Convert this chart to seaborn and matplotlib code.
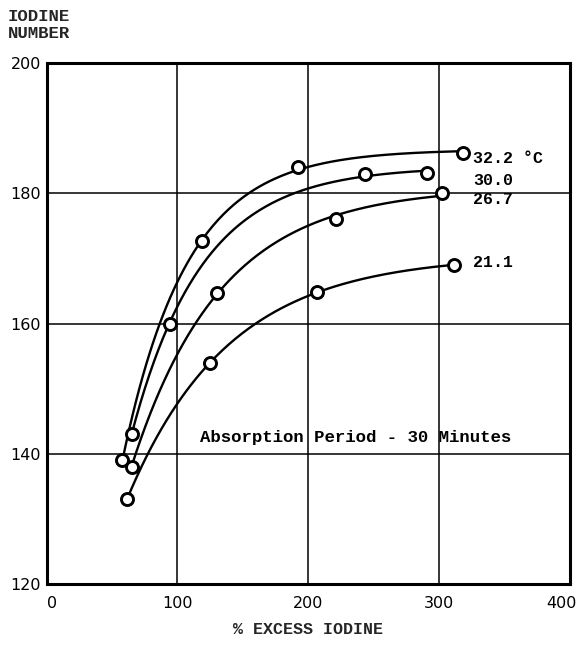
import numpy as np
import pandas as pd
import matplotlib
matplotlib.use("Agg")
import matplotlib.pyplot as plt
from matplotlib.transforms import ScaledTranslation
import seaborn as sns

# ---- data ----
temps = ["32.2", "30.0", "26.7", "21.1"]
x_322 = [58, 119, 192, 318]
y_322 = [139.0, 172.7, 184.0, 186.2]
x_300 = [65, 94, 243, 291]
y_300 = [143.0, 160.0, 183.0, 183.1]
x_267 = [65, 130, 221, 302]
y_267 = [138.0, 164.7, 176.0, 180.0]
x_211 = [61.5, 125, 207, 311]
y_211 = [133.0, 154.0, 164.8, 169.0]
curve_labels = ["32.2 \u00b0C", "30.0", "26.7", "21.1"]
label_y = [185.4, 182.0, 179.1, 169.3]
x_ticks = [0, 100, 200, 300, 400]
y_ticks = [120, 140, 160, 180, 200]

xs = [x_322, x_300, x_267, x_211]
ys = [y_322, y_300, y_267, y_211]

pts = pd.DataFrame({
    "temp": np.repeat(temps, 4),
    "x": np.concatenate(xs),
    "y": np.concatenate(ys),
})

# smooth saturating fit y = A - B*exp(-k x) per series (like the hand-drawn curves)
rows = []
for t, xv, yv in zip(temps, xs, ys):
    xv = np.asarray(xv, float); yv = np.asarray(yv, float)
    best = None
    for k in np.linspace(0.002, 0.12, 3000):
        M = np.column_stack([np.ones_like(xv), -np.exp(-k * xv)])
        coef, res, *_ = np.linalg.lstsq(M, yv, rcond=None)
        r = np.sum((M @ coef - yv) ** 2)
        if best is None or r < best[0]:
            best = (r, k, coef)
    _, k, (A, B) = best
    xg = np.linspace(xv.min(), xv.max(), 200)
    for xx in xg:
        rows.append((t, xx, A - B * np.exp(-k * xx)))
curves = pd.DataFrame(rows, columns=["temp", "x", "y"])

sns.set_theme(style="white")
plt.rcParams["font.family"] = ["DejaVu Sans"]

fig = plt.figure(figsize=(5.79, 6.64), dpi=100)
ax = fig.add_axes([46.5 / 579, 1 - 584 / 664, (570 - 46.5) / 579, (584 - 63) / 664])

pal = {t: "black" for t in temps}
sns.lineplot(data=curves, x="x", y="y", hue="temp", palette=pal, ax=ax,
             linewidth=1.7, legend=False, sort=True, estimator=None)
sns.scatterplot(data=pts, x="x", y="y", hue="temp", palette=pal, ax=ax,
                marker="o", s=75, linewidth=2.1, legend=False, zorder=5)
for c in ax.collections:
    c.set_facecolor("white")
    c.set_edgecolor("black")

ax.set_xlim(0, 400)
ax.set_ylim(120, 200)
ax.set_xticks(x_ticks)
ax.set_yticks(y_ticks)
ax.set_xticklabels([str(v) for v in x_ticks])
ax.set_yticklabels([str(v) for v in y_ticks])
ax.tick_params(axis="both", length=0, labelsize=11.5, colors="black")
ax.tick_params(axis="x", pad=9)
ax.tick_params(axis="y", pad=4)
# typed labels sit slightly inside the frame at both ends
xl = ax.get_xticklabels()
xl[0].set_transform(xl[0].get_transform() + ScaledTranslation(6 / 100, 0, fig.dpi_scale_trans))
xl[-1].set_transform(xl[-1].get_transform() + ScaledTranslation(-9 / 100, 0, fig.dpi_scale_trans))
ax.grid(True, color="black", linewidth=1.1)
ax.set_axisbelow(True)
for s in ax.spines.values():
    s.set_color("black")
    s.set_linewidth(2.2)
ax.set_xlabel("")
ax.set_ylabel("")

mono = ["Liberation Mono", "DejaVu Sans Mono"]
for lab, yy in zip(curve_labels, label_y):
    ax.text(326, yy, lab, ha="left", va="center", fontsize=12,
            family=mono, fontweight="bold", color="black")
ax.text(117, 142.5, "Absorption Period - 30 Minutes", ha="left", va="center",
        fontsize=12.5, family=mono, fontweight="bold", color="black")

fig.text(8 / 579, 1 - 9 / 664, "IODINE\nNUMBER", ha="left", va="top",
         fontsize=12.5, family=mono, fontweight="bold", linespacing=1.2)
fig.text(308 / 579, 1 - 630 / 664, "% EXCESS IODINE", ha="center", va="center",
         fontsize=12, family=mono, fontweight="bold")

fig.savefig("out.png", dpi=100)
